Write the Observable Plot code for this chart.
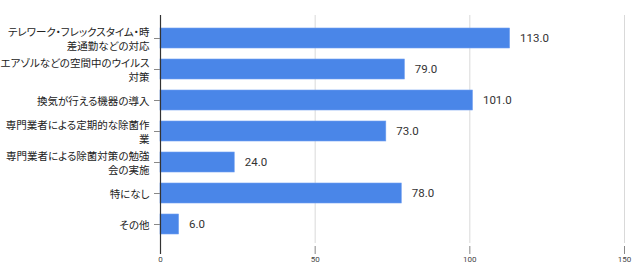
<!DOCTYPE html>
<html>
<head>
<meta charset="utf-8">
<script src="https://cdn.jsdelivr.net/npm/d3@7"></script>
<script src="https://cdn.jsdelivr.net/npm/@observablehq/plot@0.6"></script>
<style>
  html, body { margin: 0; padding: 0; background: #fff; }
  svg text { font-feature-settings: "palt"; }
</style>
</head>
<body>
<div id="chart"></div>
<script>
const categories = [
  "テレワーク・フレックスタイム・時\n差通勤などの対応",
  "エアゾルなどの空間中のウイルス\n対策",
  "換気が行える機器の導入",
  "専門業者による定期的な除菌作\n業",
  "専門業者による除菌対策の勉強\n会の実施",
  "特になし",
  "その他"
];
const values = [113, 79, 101, 73, 24, 78, 6];
const xTicks = [0, 50, 100, 150];

const data = categories.map((c, i) => ({category: c, value: values[i]}));

const chart = Plot.plot({
  width: 640,
  height: 274,
  marginTop: 15,
  marginBottom: 28,
  marginLeft: 160,
  marginRight: 16,
  style: {fontFamily: "Roboto, 'Noto Sans CJK JP', sans-serif", background: "#fff"},
  x: {domain: [0, 150], ticks: xTicks},
  y: {domain: categories, paddingInner: 0.37, paddingOuter: 0.35},
  marks: [
    Plot.gridX(xTicks.slice(1), {stroke: "#d9d9d9", strokeOpacity: 1, insetBottom: 3}),
    Plot.barX(data, {x: "value", y: "category", fill: "#4a86e8", stroke: "#6e9ef0", strokeWidth: 0.6}),
    Plot.text(data, {x: "value", y: "category", text: d => d.value.toFixed(1), dx: 10, textAnchor: "start", fontSize: 11.5, fill: "#333"}),
    Plot.axisX(xTicks, {tickSize: 8, tickPadding: 2, fontSize: 8, color: "#444", stroke: "#888", label: null}),
    Plot.ruleX([0], {stroke: "#333", strokeWidth: 1.2, insetBottom: -8}),
    Plot.axisY({tickSize: 6, tickPadding: 5, fontSize: 10.5, lineHeight: 1.3, color: "#222", stroke: "#888", label: null})
  ]
});
document.getElementById("chart").appendChild(chart);
</script>
</body>
</html>
